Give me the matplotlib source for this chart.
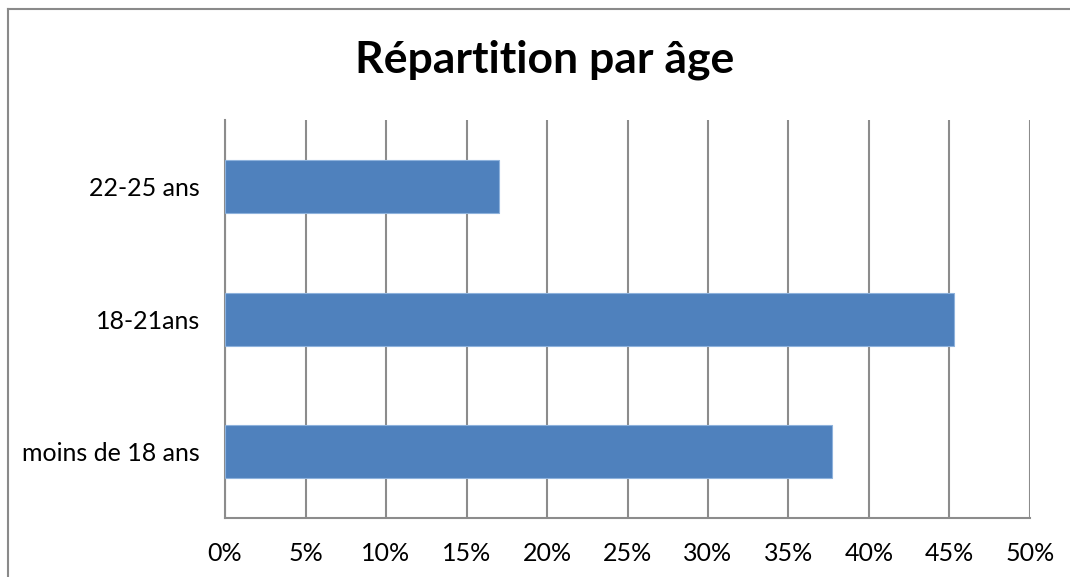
import matplotlib
matplotlib.use("Agg")
import matplotlib.pyplot as plt
from matplotlib.lines import Line2D
from matplotlib.ticker import FuncFormatter, MultipleLocator

plt.rcParams.update({"font.family": ["Lato", "DejaVu Sans"]})

categories = ["moins de 18 ans", "18-21ans", "22-25 ans"]
shares = [0.377, 0.453, 0.170]

BAR_COLOR = "#4f81bd"
GRID_COLOR = "#8c8c8c"

fig = plt.figure(figsize=(10.7, 5.77), dpi=100)
ax = fig.add_axes([0.2103, 0.1023, 0.7523, 0.6889])

pos = range(len(categories))
ax.barh(pos, shares, height=0.4, color=BAR_COLOR, edgecolor="#8eb2dc", linewidth=0.8, zorder=3)

ax.set_xlim(0, 0.5)
ax.set_ylim(-0.5, len(categories) - 0.5)
ax.xaxis.set_major_locator(MultipleLocator(0.05))
ax.xaxis.set_major_formatter(FuncFormatter(lambda v, _: f"{round(v * 100)}%"))
ax.set_yticks(list(pos))
ax.set_yticklabels(categories)

ax.grid(axis="x", color=GRID_COLOR, linewidth=1.5, zorder=0)
for side in ("top", "right"):
    ax.spines[side].set_visible(False)
ax.spines["left"].set_color(GRID_COLOR)
ax.spines["left"].set_linewidth(1.5)
ax.spines["bottom"].set_color(GRID_COLOR)
ax.spines["bottom"].set_linewidth(1.5)
ax.tick_params(axis="both", length=0, labelsize=18, colors="black")
ax.tick_params(axis="x", pad=17)
ax.tick_params(axis="y", pad=18)

fig.text(0.509, 0.896, "Répartition par âge", ha="center", va="center",
         fontsize=32, fontweight="bold")

# chart frame (only top and left edges fall inside the image)
fig.add_artist(Line2D([7.5 / 1070, 7.5 / 1070], [0, 1 - 8.5 / 577],
                      transform=fig.transFigure, color="#8a8a8a", linewidth=1.5))
fig.add_artist(Line2D([7.5 / 1070, 1], [1 - 8.5 / 577, 1 - 8.5 / 577],
                      transform=fig.transFigure, color="#8a8a8a", linewidth=1.5))

fig.savefig("out.png", dpi=100)
